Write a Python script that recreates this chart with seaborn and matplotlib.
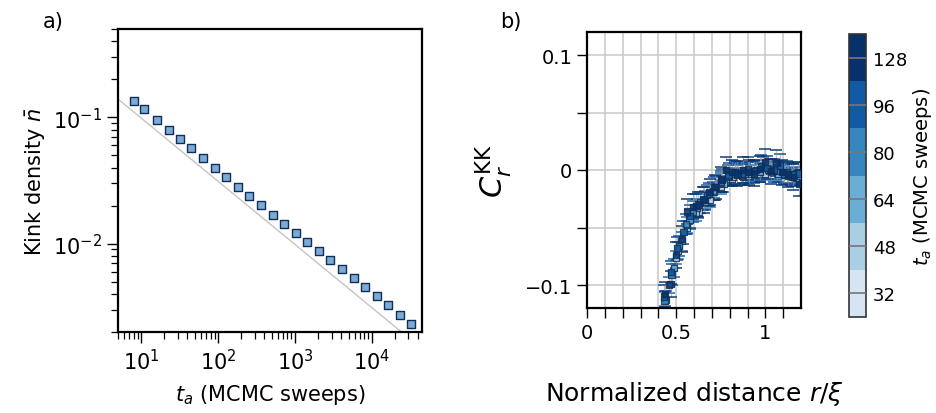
import numpy as np
import pandas as pd
import matplotlib
matplotlib.use("Agg")
import matplotlib.pyplot as plt
from matplotlib.colors import ListedColormap, BoundaryNorm
from matplotlib.ticker import FixedLocator, NullFormatter, LogLocator
import seaborn as sns

# ---------------- data: panel a ----------------
anneal_times = [8, 11, 16, 23, 32, 45, 64, 91, 128, 181, 256, 362, 512, 724,
                1024, 1448, 2048, 2896, 4096, 5793, 8192, 11585, 16384, 23170, 32768]
kink_density = [0.1348, 0.1157, 0.0952, 0.0793, 0.0673, 0.0568, 0.0473, 0.0397,
                0.0334, 0.0282, 0.0238, 0.0202, 0.0170, 0.0144, 0.01216, 0.01031,
                0.00869, 0.00738, 0.00626, 0.00531, 0.00450, 0.00384, 0.00328,
                0.00273, 0.00232]
fit_amplitude = 0.312
fit_exponent = -0.5
fit_range = [5, 45000]

# ---------------- data: panel b ----------------
ta_values = [32, 48, 64, 80, 96, 128]
r_xi_32 = [0.4375, 0.5, 0.5625, 0.625, 0.6875, 0.75, 0.8125, 0.875, 0.9375, 1.0, 1.0625, 1.125, 1.1875]
c_32 = [-0.112, -0.076, -0.050, -0.036, -0.026, -0.015, -0.008, -0.006, -0.004, -0.003, -0.002, -0.005, -0.006]
r_xi_48 = [0.459, 0.510, 0.561, 0.612, 0.663, 0.714, 0.765, 0.816, 0.867, 0.918, 0.969, 1.020, 1.071, 1.122, 1.173]
c_48 = [-0.100, -0.070, -0.048, -0.037, -0.028, -0.019, -0.012, -0.006, -0.005, -0.003, -0.002, -0.001, -0.003, -0.004, -0.007]
r_xi_64 = [0.442, 0.486, 0.530, 0.575, 0.619, 0.663, 0.707, 0.751, 0.796, 0.840, 0.884, 0.928, 0.972, 1.017, 1.061, 1.105, 1.149, 1.193]
c_64 = [-0.113, -0.085, -0.062, -0.043, -0.033, -0.026, -0.018, -0.011, -0.006, -0.004, -0.003, -0.001, -0.002, 0.000, -0.001, -0.004, -0.006, -0.005]
r_xi_80 = [0.435, 0.474, 0.514, 0.553, 0.593, 0.632, 0.672, 0.711, 0.751, 0.790, 0.830, 0.869, 0.909, 0.948, 0.988, 1.027, 1.067, 1.106, 1.146, 1.185]
c_80 = [-0.114, -0.091, -0.066, -0.047, -0.036, -0.028, -0.022, -0.015, -0.010, -0.005, -0.003, -0.004, -0.002, 0.000, 0.002, 0.001, -0.001, -0.003, -0.004, -0.002]
r_xi_96 = [0.433, 0.469, 0.505, 0.541, 0.577, 0.614, 0.650, 0.686, 0.722, 0.758, 0.794, 0.830, 0.866, 0.902, 0.938, 0.975, 1.011, 1.047, 1.083, 1.119, 1.155, 1.191]
c_96 = [-0.110, -0.089, -0.068, -0.054, -0.040, -0.031, -0.025, -0.021, -0.015, -0.009, -0.004, -0.002, -0.003, 0.001, -0.001, 0.003, 0.002, 0.000, 0.004, -0.002, -0.004, -0.003]
r_xi_128 = [0.4375, 0.46875, 0.5, 0.53125, 0.5625, 0.59375, 0.625, 0.65625, 0.6875, 0.71875, 0.75, 0.78125, 0.8125,
            0.84375, 0.875, 0.90625, 0.9375, 0.96875, 1.0, 1.03125, 1.0625, 1.09375, 1.125, 1.15625, 1.1875]
c_128 = [-0.108, -0.099, -0.074, -0.060, -0.036, -0.032, -0.030, -0.026, -0.019, -0.015, -0.008, 0.000, -0.002,
         -0.003, 0.000, -0.002, -0.003, 0.001, 0.007, -0.001, 0.006, -0.002, -0.004, -0.006, -0.012]
err_by_ta = [0.006, 0.007, 0.008, 0.009, 0.010, 0.011]
cbar_labels = ["32", "48", "64", "80", "96", "128"]

r_xi_series = [r_xi_32, r_xi_48, r_xi_64, r_xi_80, r_xi_96, r_xi_128]
c_series = [c_32, c_48, c_64, c_80, c_96, c_128]

# ---------------- style ----------------
sns.set_theme(style="ticks")
plt.rcParams['font.family'] = ['DejaVu Sans']
plt.rcParams['mathtext.fontset'] = 'dejavusans'
plt.rcParams['text.color'] = 'black'
plt.rcParams['axes.labelcolor'] = 'black'
plt.rcParams['xtick.color'] = 'black'
plt.rcParams['ytick.color'] = 'black'

blues = plt.get_cmap("Blues")
colors = [blues(v) for v in np.linspace(0.17, 1.0, 6)]
edge_dark = "#0f2f57"

fig = plt.figure(figsize=(9.37, 4.14), dpi=100)

# ---------------- panel a ----------------
ax_a = fig.add_axes([118/937, 81/414, 304/937, 303/414])
df_a = pd.DataFrame({"t": anneal_times, "n": kink_density})
fx = np.geomspace(fit_range[0], fit_range[1], 50)
ax_a.plot(fx, fit_amplitude * fx ** fit_exponent, color="#c4c4c4", lw=1.0, zorder=1)
sns.scatterplot(data=df_a, x="t", y="n", ax=ax_a, marker="s", s=30,
                color="#7eaad6", edgecolor=edge_dark, linewidth=1.0, zorder=3)
ax_a.set_xscale("log")
ax_a.set_yscale("log")
ax_a.set_xlim(5, 45000)
ax_a.set_ylim(0.002, 0.5)
ax_a.xaxis.set_major_locator(LogLocator(base=10, numticks=10))
ax_a.xaxis.set_minor_locator(LogLocator(base=10, subs=np.arange(2, 10), numticks=20))
ax_a.yaxis.set_major_locator(FixedLocator([0.01, 0.1]))
ax_a.yaxis.set_minor_locator(LogLocator(base=10, subs=np.arange(2, 10), numticks=20))
ax_a.yaxis.set_minor_formatter(NullFormatter())
ax_a.tick_params(which="major", length=8, width=1.0, labelsize=15, direction="out")
ax_a.tick_params(which="minor", length=5, width=0.9, direction="out")
ax_a.set_xlabel("$t_a$ (MCMC sweeps)", fontsize=15, labelpad=6)
ax_a.set_ylabel(r"Kink density $\bar{n}$", fontsize=15, labelpad=4)
for s in ax_a.spines.values():
    s.set_visible(True)
    s.set_linewidth(1.6)
    s.set_color("black")
fig.text(43/937, 1 - 22/414, "a)", fontsize=15, va="center", ha="left")

# ---------------- panel b ----------------
ax_b = fig.add_axes([587/937, 105/414, 214/937, 276/414])
rows = []
for t, xs, ys in zip(ta_values, r_xi_series, c_series):
    for x, y in zip(xs, ys):
        rows.append({"ta": t, "r": x, "c": y})
df_b = pd.DataFrame(rows)
for t, col, err in zip(ta_values, colors, err_by_ta):
    sub = df_b[df_b["ta"] == t]
    cont = ax_b.errorbar(sub["r"], sub["c"], yerr=err, fmt="none", ecolor="#8f8f8f",
                         elinewidth=0.9, capsize=4, capthick=1.3, alpha=0.55, zorder=2)
    cap_col = blues(0.65 + 0.35 * (t / 128))
    for cl in cont[1]:
        cl.set_color(cap_col)
        cl.set_markeredgecolor(cap_col)
        cl.set_markerfacecolor(cap_col)
        cl.set_alpha(0.8)
palette = {t: c for t, c in zip(ta_values, colors)}
sns.scatterplot(data=df_b, x="r", y="c", hue="ta", palette=palette, ax=ax_b,
                marker="s", s=20, edgecolor=edge_dark, linewidth=0.9, alpha=0.85,
                legend=False, zorder=3)
ax_b.set_xlim(0, 1.2)
ax_b.set_ylim(-0.12, 0.12)
ax_b.xaxis.set_major_locator(FixedLocator([0, 0.5, 1.0]))
ax_b.xaxis.set_minor_locator(FixedLocator([0.1, 0.2, 0.3, 0.4, 0.6, 0.7, 0.8, 0.9, 1.1]))
ax_b.set_xticklabels(["0", "0.5", "1"])
ax_b.yaxis.set_major_locator(FixedLocator([-0.1, 0, 0.1]))
ax_b.yaxis.set_minor_locator(FixedLocator([-0.05, 0.05]))
ax_b.set_yticklabels(["\u22120.1", "0", "0.1"])
ax_b.grid(True, which="both", color="#c8c8c8", lw=1.1)
ax_b.set_axisbelow(True)
ax_b.tick_params(which="both", length=7, width=1.0, labelsize=14, direction="out")
ax_b.set_xlabel(r"Normalized distance $r/\xi$", fontsize=18, labelpad=27)
ax_b.set_ylabel(r"$C_r^{\mathrm{KK}}$", fontsize=22, labelpad=8)
for s in ax_b.spines.values():
    s.set_visible(True)
    s.set_linewidth(1.6)
    s.set_color("black")
fig.text(500/937, 1 - 22/414, "b)", fontsize=15, va="center", ha="left")

# ---------------- colorbar ----------------
cax = fig.add_axes([849/937, 96/414, 17/937, 283/414])
cmap = ListedColormap(colors)
norm = BoundaryNorm(np.arange(0, 7), cmap.N)
sm = plt.cm.ScalarMappable(cmap=cmap, norm=norm)
cb = fig.colorbar(sm, cax=cax, ticks=np.arange(6) + 0.5)
cb.set_ticklabels(cbar_labels)
cb.ax.minorticks_off()
cb.ax.tick_params(which="both", length=0, labelsize=13, pad=5)
for tk in np.arange(6) + 0.5:
    cax.axhline(tk, color="#777777", lw=1.2, zorder=5)
cb.outline.set_linewidth(1.2)
cb.outline.set_edgecolor("#333333")
cb.set_label("$t_a$ (MCMC sweeps)", fontsize=14, labelpad=3)

fig.savefig("out.png", dpi=100)
